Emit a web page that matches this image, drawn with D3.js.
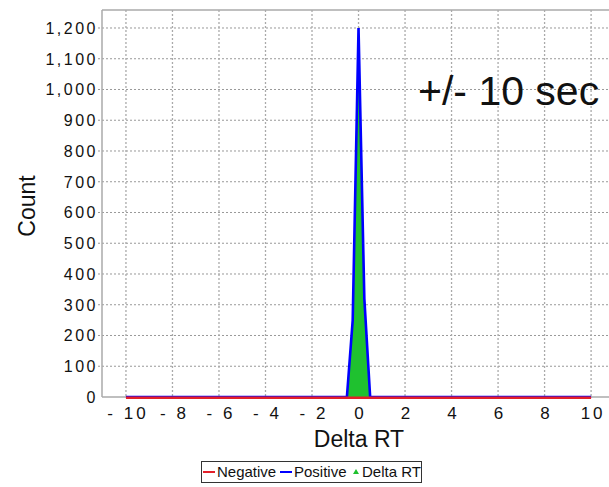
<!DOCTYPE html>
<html>
<head>
<meta charset="utf-8">
<script src="https://cdn.jsdelivr.net/npm/d3@7"></script>
<style>
  body { margin: 0; background: #fff; }
  svg text { font-family: "Liberation Sans", Arial, sans-serif; fill: #111; }
</style>
</head>
<body>
<div id="chart"></div>
<script>
// delta RT bins (sec) and counts per series
var deltaRT = [-10, -0.5, -0.25, 0, 0.25, 0.5, 10];
var negative = [0, 0, 0, 0, 0, 0, 0];
var positive = [0, 0, 250, 1200, 320, 0, 0];
var deltaCount = [0, 0, 230, 1190, 290, 0, 0];

var xTicks = [-10, -8, -6, -4, -2, 0, 2, 4, 6, 8, 10];
var yTicks = [0, 100, 200, 300, 400, 500, 600, 700, 800, 900, 1000, 1100, 1200];
var legendNames = ["Negative", "Positive", "Delta RT"];

var width = 609,
    height = 487,
    plotL = 102, plotT = 10, plotR = 609, plotB = 397;

var x = d3.scaleLinear().domain([-11.03, 10.77]).range([plotL, plotR]);
var y = d3.scaleLinear().domain([0, 1258.5]).range([plotB, plotT]);
var fmt = d3.format(",d");

var svg = d3.select("#chart").append("svg")
    .attr("width", width)
    .attr("height", height);

// grid
svg.append("g").selectAll("line")
    .data(yTicks.slice(1))
    .enter().append("line")
    .attr("x1", plotL - 4).attr("x2", plotR)
    .attr("y1", function(d) { return y(d); })
    .attr("y2", function(d) { return y(d); })
    .attr("stroke", "#999")
    .attr("stroke-width", 1)
    .attr("stroke-dasharray", "2,2");

svg.append("g").selectAll("line")
    .data(xTicks)
    .enter().append("line")
    .attr("x1", function(d) { return x(d); })
    .attr("x2", function(d) { return x(d); })
    .attr("y1", plotT).attr("y2", plotB)
    .attr("stroke", "#aaa")
    .attr("stroke-width", 1.3)
    .attr("stroke-dasharray", "2,2");

// frame
svg.append("line").attr("x1", plotL).attr("x2", plotR).attr("y1", plotT).attr("y2", plotT)
    .attr("stroke", "#aaa").attr("stroke-width", 1.5);
svg.append("line").attr("x1", plotL).attr("x2", plotL).attr("y1", plotT).attr("y2", plotB)
    .attr("stroke", "#aaa").attr("stroke-width", 1.5);
svg.append("line").attr("x1", plotL).attr("x2", plotR).attr("y1", plotB).attr("y2", plotB)
    .attr("stroke", "#aaa").attr("stroke-width", 1.5);

// y tick labels
svg.append("g").selectAll("text")
    .data(yTicks)
    .enter().append("text")
    .attr("x", plotL - 4)
    .attr("y", function(d) { return y(d); })
    .attr("dy", "0.36em")
    .attr("text-anchor", "end")
    .style("font-size", "16px")
    .style("letter-spacing", "2.5px")
    .text(function(d) { return fmt(d); });

// x tick labels
svg.append("g").selectAll("text")
    .data(xTicks)
    .enter().append("text")
    .attr("x", function(d) { return x(d) + 2; })
    .attr("y", 419)
    .attr("text-anchor", "middle")
    .style("font-size", "17px")
    .style("letter-spacing", "3px")
    .text(function(d) { return d < 0 ? "- " + Math.abs(d) : d; });

// series
var pts = function(vals) { return deltaRT.map(function(d, i) { return [d, vals[i]]; }); };

svg.append("path")
    .datum(pts(deltaCount))
    .attr("fill", "#1fc12f")
    .attr("d", d3.area().x(function(d) { return x(d[0]); }).y0(y(0)).y1(function(d) { return y(d[1]); }));

svg.append("path")
    .datum(pts(positive))
    .attr("fill", "none")
    .attr("stroke", "#0000ff")
    .attr("stroke-width", 2.6)
    .attr("d", d3.line().x(function(d) { return x(d[0]); }).y(function(d) { return y(d[1]); }));

svg.append("path")
    .datum(pts(negative))
    .attr("fill", "none")
    .attr("stroke", "#e3202a")
    .attr("stroke-width", 2.4)
    .attr("transform", "translate(0,0.8)")
    .attr("d", d3.line().x(function(d) { return x(d[0]); }).y(function(d) { return y(d[1]); }));

// axis titles
svg.append("text")
    .attr("x", 359).attr("y", 447)
    .attr("text-anchor", "middle")
    .style("font-size", "23px")
    .text("Delta RT");

svg.append("text")
    .attr("transform", "translate(35,206)rotate(-90)")
    .attr("text-anchor", "middle")
    .style("font-size", "23px")
    .text("Count");

svg.append("text")
    .attr("x", 418).attr("y", 105)
    .style("font-size", "41px")
    .text("+/- 10 sec");

// legend
var lg = svg.append("g");
lg.append("rect")
    .attr("x", 201.5).attr("y", 461.5).attr("width", 220).attr("height", 21)
    .attr("fill", "#fff").attr("stroke", "#333").attr("stroke-width", 1);

var legendColors = ["#e3202a", "#0000ff", "#1fc12f"];
var legendX = [203, 280, 352];
legendNames.forEach(function(name, i) {
    if (i < 2) {
        lg.append("line")
            .attr("x1", legendX[i]).attr("x2", legendX[i] + 12)
            .attr("y1", 472).attr("y2", 472)
            .attr("stroke", legendColors[i]).attr("stroke-width", 2);
    } else {
        lg.append("path")
            .attr("d", "M" + (legendX[i] + 4) + ",469 l3,5 l-6,0 z")
            .attr("fill", legendColors[i]);
    }
    lg.append("text")
        .attr("x", legendX[i] + (i < 2 ? 14 : 10))
        .attr("y", 477)
        .style("font-size", "15px")
        .text(name);
});
</script>
</body>
</html>
